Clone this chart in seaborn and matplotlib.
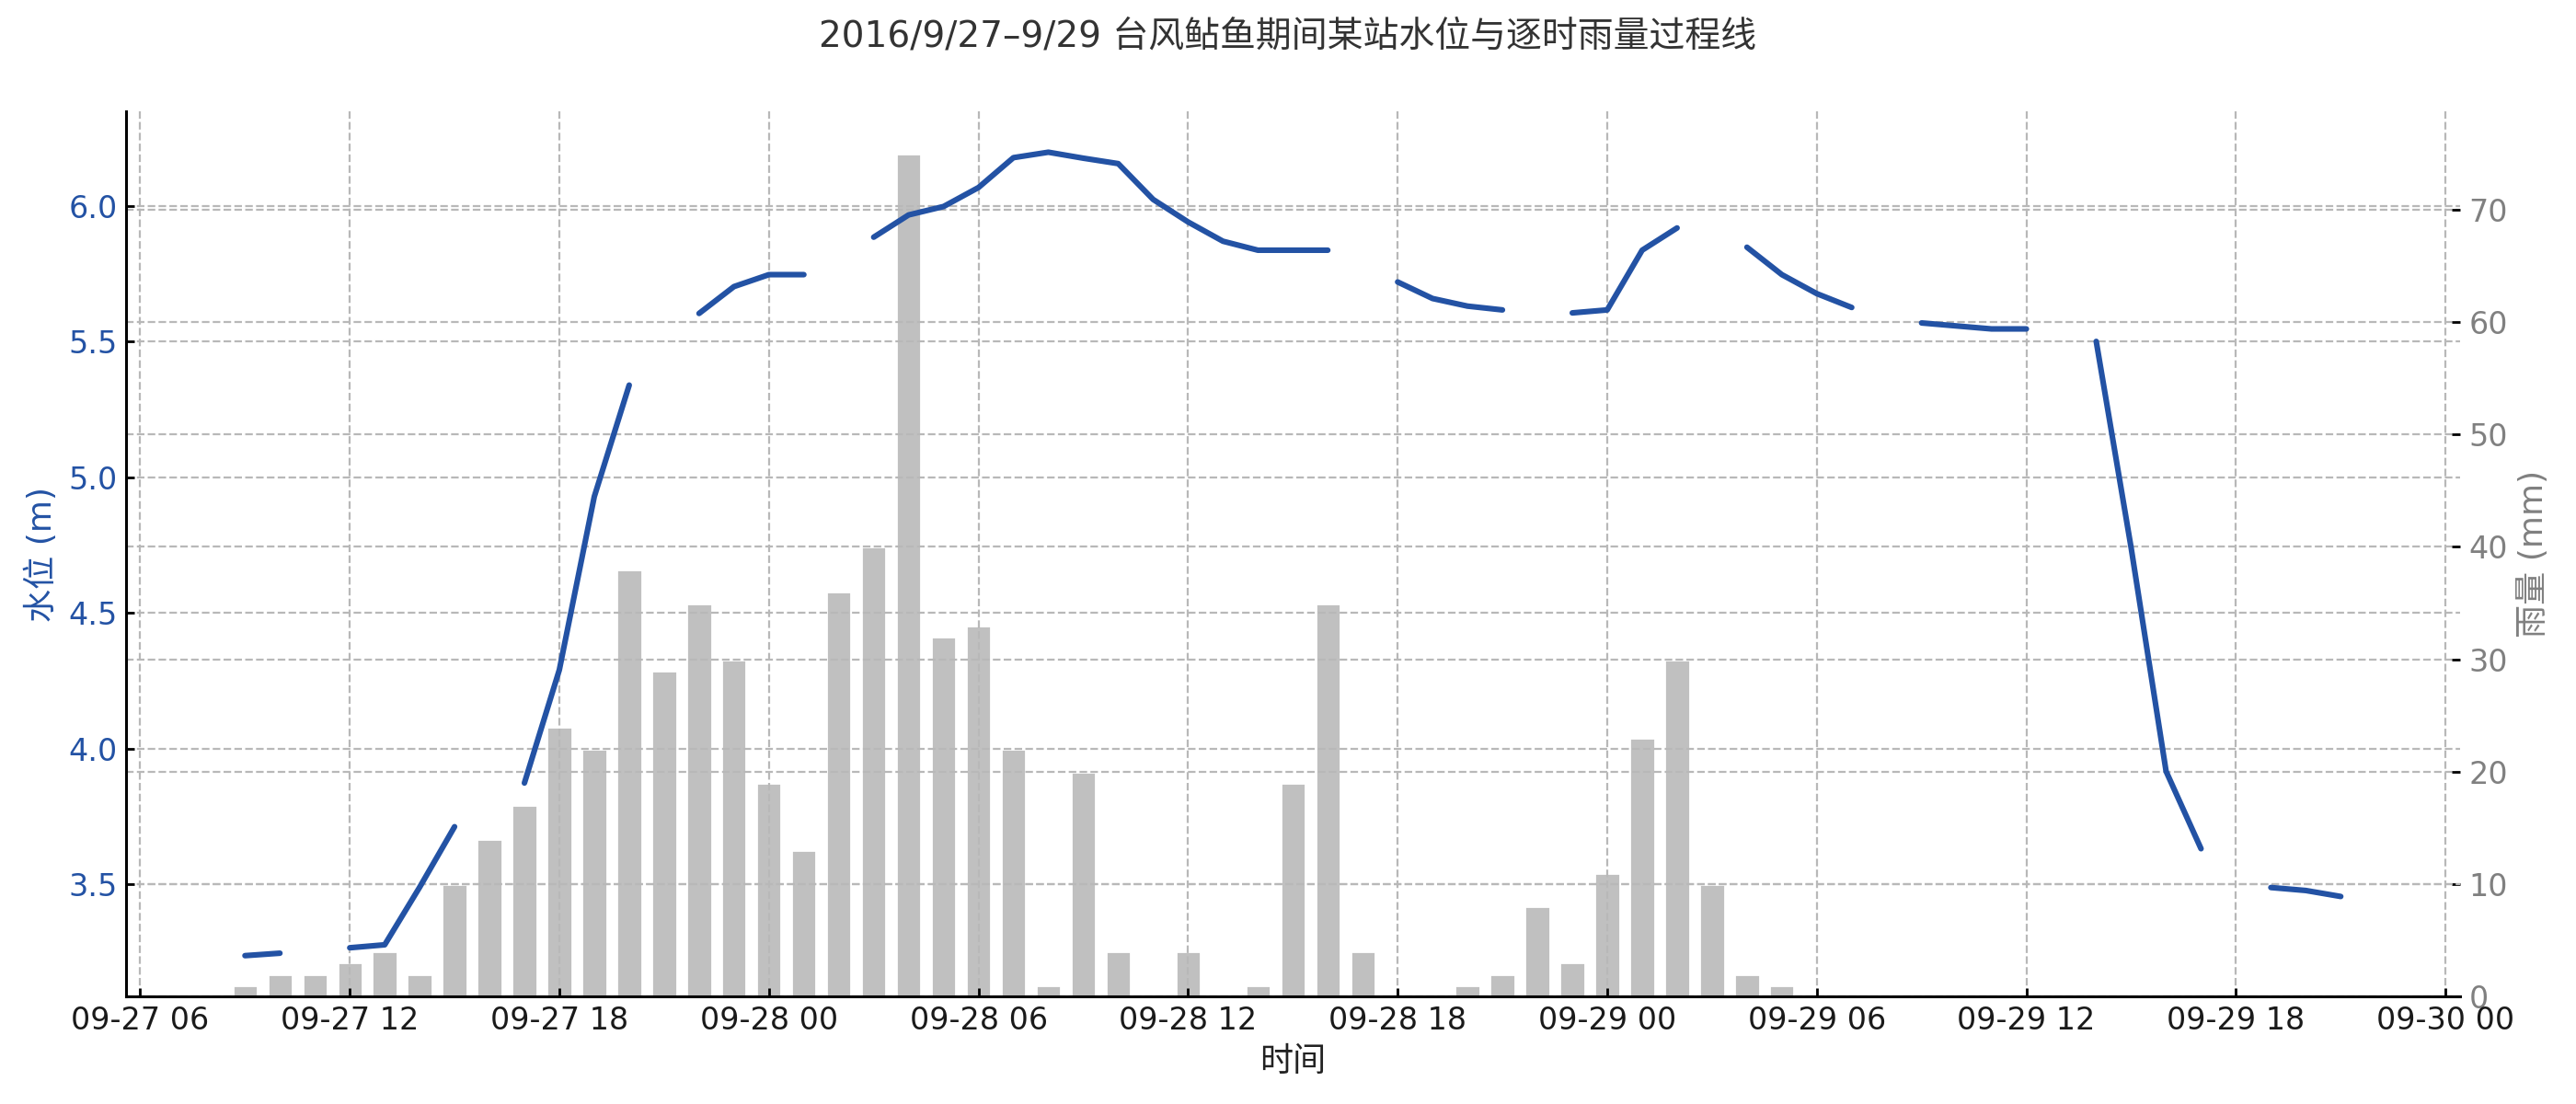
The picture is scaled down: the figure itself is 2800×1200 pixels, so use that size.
import numpy as np
import pandas as pd
import matplotlib
matplotlib.use("Agg")
import matplotlib.pyplot as plt
import matplotlib.dates as mdates
import seaborn as sns

# ---------------- data ----------------
start_time = "2016-09-27 06:00"
end_time = "2016-09-30 00:00"

rain_mm = [0, 0, 0, 1, 2, 2, 3, 4, 2, 10, 14, 17, 24, 22, 38, 29, 35, 30,
           19, 13, 36, 40, 75, 32, 33, 22, 1, 20, 4, 0, 4, 0, 1, 19, 35, 4,
           0, 0, 1, 2, 8, 3, 11, 23, 30, 10, 2, 1,
           0, 0, 0, 0, 0, 0, 0, 0, 0, 0, 0, 0, 0, 0, 0, 0, 0, 0, 0]

nan = np.nan
level_m = [nan, nan, nan, 3.238, 3.247, nan, 3.267, 3.278, 3.49, 3.713, nan,
           3.874, 4.291, 4.929, 5.340, nan, 5.604, 5.703, 5.747, 5.747, nan,
           5.885, 5.967, 5.998, 6.068, 6.178, 6.198, 6.176, 6.156, 6.024,
           5.941, 5.870, 5.837, 5.837, 5.837, nan, 5.720, 5.659, 5.631, 5.617,
           nan, 5.606, 5.617, 5.837, 5.919, nan, 5.848, 5.747, 5.677, 5.626,
           nan, 5.569, 5.558, 5.547, 5.547, nan, 5.501, 4.74, 3.917, 3.632,
           nan, 3.489, 3.478, 3.456, nan, nan, nan]

title_text = "2016/9/27–9/29 台风鲇鱼期间某站水位与逐时雨量过程线"
left_label = "水位 (m)"
right_label = "雨量 (mm)"
x_label = "时间"

# ---------------- style ----------------
sns.set_theme(style="ticks")
plt.rcParams["font.family"] = ["DejaVu Sans", "Noto Sans CJK SC"]
plt.rcParams["axes.unicode_minus"] = False

line_color = "#2352a4"
bar_color = "#c0c0c0"
grid_kw = dict(linestyle="--", color="#b8b8b8", linewidth=0.8)

times = pd.date_range(start_time, end_time, freq="h")
df = pd.DataFrame({"time": times, "level": level_m, "rain": rain_mm})
df["seg"] = df["level"].isna().cumsum()
line_df = df.dropna(subset=["level"])

fig, ax1 = plt.subplots(figsize=(14, 6), dpi=200)
ax2 = ax1.twinx()
ax1.set_zorder(ax2.get_zorder() + 1)
ax1.patch.set_visible(False)

# bars (rain) on right axis
ax2.bar(df["time"], df["rain"], width=0.72 / 24, color=bar_color, zorder=1)
ax2.set_ylim(0, max(rain_mm) * 1.05)
ax2.grid(True, axis="y", **grid_kw)
ax2.set_axisbelow(False)

# line (water level) on left axis
sns.lineplot(data=line_df, x="time", y="level", units="seg", estimator=None,
             color=line_color, linewidth=2.2, ax=ax1, legend=False)
lv = np.array(level_m, dtype=float)
ax1.set_ylim(np.nanmin(lv) - 0.15, np.nanmax(lv) + 0.15)
ax1.set_yticks([3.5, 4.0, 4.5, 5.0, 5.5, 6.0])
ax1.grid(True, axis="both", **grid_kw)

x0 = pd.Timestamp(start_time) - pd.Timedelta(minutes=24)
x1 = pd.Timestamp(end_time) + pd.Timedelta(minutes=25)
ax1.set_xlim(x0, x1)
ax1.xaxis.set_major_locator(mdates.HourLocator(byhour=[0, 6, 12, 18]))
ax1.xaxis.set_major_formatter(mdates.DateFormatter("%m-%d %H"))

# labels
ax1.set_xlabel(x_label, fontsize=13, color="#222222")
ax1.set_ylabel(left_label, fontsize=13, color=line_color)
ax2.set_ylabel(right_label, fontsize=13, color="#808080")

ax1.tick_params(axis="y", colors="black", labelcolor=line_color, labelsize=12,
                direction="in", length=3.2, width=1)
ax1.tick_params(axis="x", colors="black", labelcolor="#1a1a1a", labelsize=12,
                direction="in", length=3.2, width=1)
ax2.tick_params(axis="y", colors="black", labelcolor="#808080", labelsize=12,
                direction="in", length=3.2, width=1)

for a in (ax1, ax2):
    a.spines["top"].set_visible(False)
    a.spines["right"].set_visible(False)
ax2.spines["left"].set_visible(False)
ax2.spines["bottom"].set_visible(False)
for s in ("left", "bottom"):
    ax1.spines[s].set_color("black")
    ax1.spines[s].set_linewidth(1.1)

fig.suptitle(title_text, fontsize=14, color="#333333", y=0.967, va="center")
fig.subplots_adjust(left=0.049, right=0.955, bottom=0.0975, top=0.899)
fig.savefig("out.png", dpi=200)
